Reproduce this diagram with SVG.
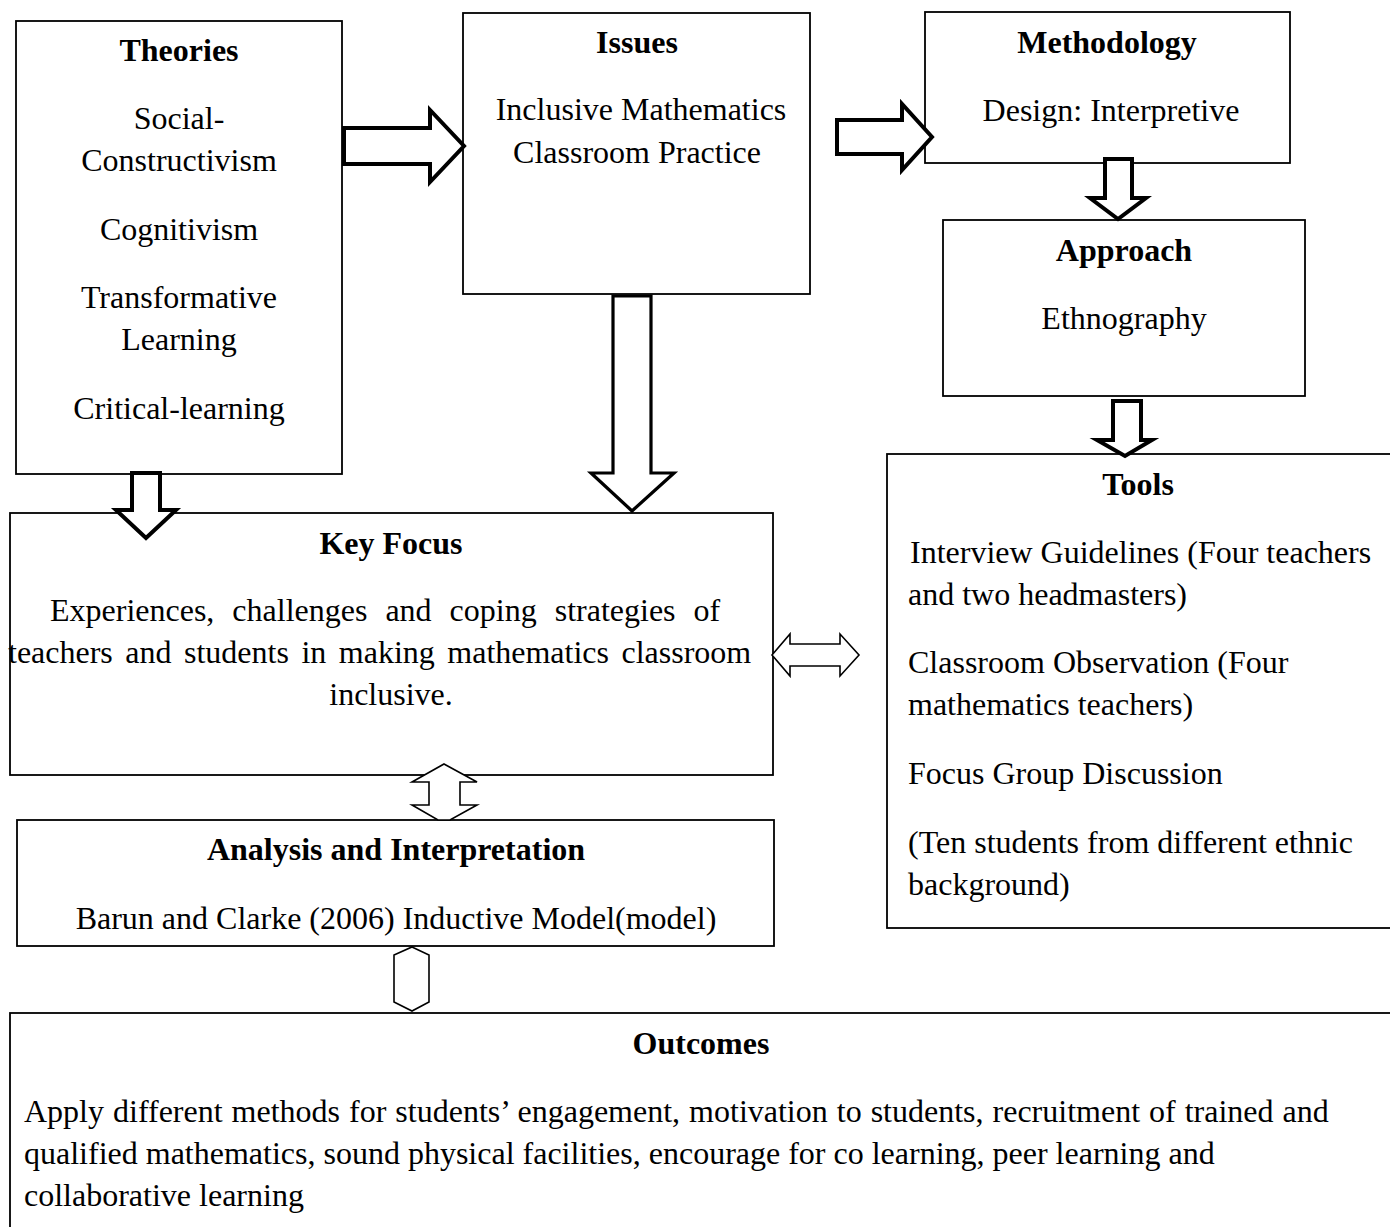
<svg xmlns="http://www.w3.org/2000/svg" width="1390" height="1227" viewBox="0 0 1390 1227">
<style>
.box{fill:#fff;stroke:#000;stroke-width:1.8}
.t{font-family:"Liberation Serif","Times New Roman",serif;font-size:32px;fill:#000}
.b{font-weight:bold}
.c{text-anchor:middle}
.ba{fill:#fff;stroke:#000;stroke-width:4;stroke-linejoin:miter}
.ba3{fill:#fff;stroke:#000;stroke-width:3.2;stroke-linejoin:miter}
.da{fill:#fff;stroke:#000;stroke-width:1.6;stroke-linejoin:miter}
</style>
<rect width="1390" height="1227" fill="#fff"/>
<g id="theories">
<rect class="box" x="16" y="21" width="326" height="453"/>
<text class="t b c" x="179" y="61">Theories</text>
<text class="t c" x="179" y="129">Social-</text>
<text class="t c" x="179" y="171">Constructivism</text>
<text class="t c" x="179" y="240">Cognitivism</text>
<text class="t c" x="179" y="308">Transformative</text>
<text class="t c" x="179" y="350">Learning</text>
<text class="t c" x="179" y="419">Critical-learning</text>
</g>
<g id="issues">
<rect class="box" x="463" y="13" width="347" height="281"/>
<text class="t b c" x="637" y="53">Issues</text>
<text class="t c" x="641" y="120">Inclusive Mathematics</text>
<text class="t c" x="637" y="163">Classroom Practice</text>
</g>
<g id="methodology">
<rect class="box" x="925" y="12" width="365" height="151"/>
<text class="t b c" x="1107" y="53">Methodology</text>
<text class="t c" x="1111" y="121">Design: Interpretive</text>
</g>
<g id="approach">
<rect class="box" x="943" y="220" width="362" height="176"/>
<text class="t b c" x="1124" y="261">Approach</text>
<text class="t c" x="1124" y="329">Ethnography</text>
</g>
<g id="tools">
<rect class="box" x="887" y="454" width="520" height="474"/>
<text class="t b c" x="1138" y="495">Tools</text>
<text class="t" x="910" y="563"> Interview Guidelines (Four teachers</text>
<text class="t" x="908" y="605">and two headmasters)</text>
<text class="t" x="908" y="673">Classroom Observation (Four</text>
<text class="t" x="908" y="715">mathematics teachers)</text>
<text class="t" x="908" y="784">Focus Group Discussion</text>
<text class="t" x="908" y="853">(Ten students from different ethnic</text>
<text class="t" x="908" y="895">background)</text>
</g>
<g id="keyfocus">
<rect class="box" x="10" y="513" width="763" height="262"/>
<text class="t b c" x="391" y="554">Key Focus</text>
<text class="t" x="50" y="621" word-spacing="10">Experiences, challenges and coping strategies of</text>
<text class="t" x="8" y="663" word-spacing="4.5">teachers and students in making mathematics classroom</text>
<text class="t c" x="391" y="705">inclusive.</text>
</g>
<g id="analysis">
<rect class="box" x="17" y="820" width="757" height="126"/>
<text class="t b c" x="396" y="860">Analysis and Interpretation</text>
<text class="t c" x="396" y="929">Barun and Clarke (2006) Inductive Model(model)</text>
</g>
<g id="outcomes">
<rect class="box" x="10" y="1013" width="1400" height="240"/>
<text class="t b c" x="701" y="1054">Outcomes</text>
<text class="t" x="24" y="1122" word-spacing="1">Apply different methods for students’ engagement, motivation to students, recruitment of trained and</text>
<text class="t" x="24" y="1164">qualified mathematics, sound physical facilities, encourage for co learning, peer learning and</text>
<text class="t" x="24" y="1206">collaborative learning</text>
</g>
<g id="connectors">
<polygon class="ba" points="344,128 430,128 430,110 464,146 430,182 430,164 344,164"/>
<polygon class="ba" points="837,120 902,120 902,104 932,137 902,170 902,154 837,154"/>
<polygon class="ba" points="1105,159 1132,159 1132,198 1146,198 1118,219 1090,198 1105,198"/>
<polygon class="ba" points="1113,401 1141,401 1141,440 1152,440 1125,456 1097,440 1113,440"/>
<polygon class="ba" points="132,473 160,473 160,510 176,510 146,538 116,510 132,510"/>
<polygon class="ba3" points="613,296 651,296 651,473 674,473 632,511 591,473 613,473"/>
<polygon class="da" points="772,655 790,634 790,644 840,644 840,634 859,655 840,676 840,666 790,666 790,676"/>
<polygon class="da" points="444,764 477,782 460,782 460,805 477,805 450,820 438,820 412,805 429,805 429,782 412,782"/>
<polygon class="da" points="412,947 429,955 429,1002 412,1011 394,1002 394,955"/>
</g>
</svg>
